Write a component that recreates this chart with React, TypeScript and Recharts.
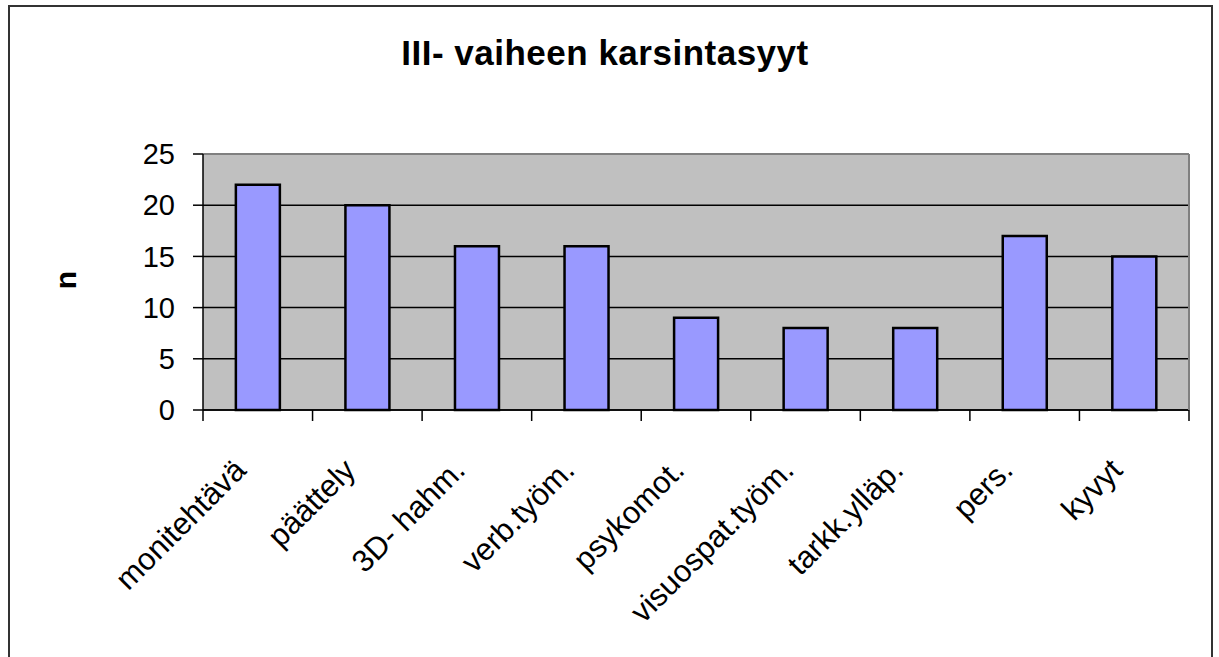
import React from 'react';
import { BarChart, Bar, XAxis, YAxis, CartesianGrid, ReferenceLine } from 'recharts';

const categories = ['monitehtävä', 'päättely', '3D- hahm.', 'verb.työm.', 'psykomot.', 'visuospat.työm.', 'tarkk.ylläp.', 'pers.', 'kyvyt'];
const values = [22, 20, 16, 16, 9, 8, 8, 17, 15];
const yTicks = [0, 5, 10, 15, 20, 25];
const title = 'III- vaiheen karsintasyyt';
const yLabel = 'n';

const data = categories.map((name, i) => ({ name, value: values[i] }));

const W = 1219;
const H = 657;
const PLOT_LEFT = 203;
const PLOT_RIGHT = 1189;
const PLOT_TOP = 154;
const PLOT_BOTTOM = 410;
const BAND = (PLOT_RIGHT - PLOT_LEFT) / categories.length;
const FONT = 'Arial, "Liberation Sans", sans-serif';

const XTick = (props: any) => {
  const { x, y, payload, index } = props;
  const left = x - BAND / 2;
  const tx = x - 10;
  const ty = y + 62;
  return (
    <g>
      <line x1={left} y1={y} x2={left} y2={y + 11} stroke="#000" strokeWidth={1.5} />
      {index === categories.length - 1 && (
        <line x1={x + BAND / 2} y1={y} x2={x + BAND / 2} y2={y + 11} stroke="#000" strokeWidth={1.5} />
      )}
      <text
        x={tx}
        y={ty}
        transform={`rotate(-45 ${tx} ${ty})`}
        textAnchor="end"
        fontSize={31}
        fontFamily={FONT}
        fill="#000"
      >
        {payload.value}
      </text>
    </g>
  );
};

export default function App() {
  return (
    <div style={{ position: 'absolute', left: 0, top: 0, width: W, height: H, overflow: 'hidden', background: '#fff' }}>
      <BarChart
        width={W}
        height={H}
        data={data}
        margin={{ top: PLOT_TOP, right: 0, bottom: 0, left: 0 }}
        barCategoryGap="30%"
      >
        <CartesianGrid vertical={false} stroke="#000" strokeWidth={1.5} fill="#C0C0C0" fillOpacity={1} />
        <XAxis
          dataKey="name"
          height={H - PLOT_BOTTOM}
          interval={0}
          tickSize={0}
          tickMargin={0}
          tickLine={false}
          axisLine={{ stroke: '#000', strokeWidth: 1.5 }}
          tick={<XTick />}
        />
        <YAxis
          width={PLOT_LEFT}
          domain={[0, 25]}
          ticks={yTicks}
          interval={0}
          tickSize={10}
          tickMargin={18}
          axisLine={{ stroke: '#000', strokeWidth: 1.5 }}
          tickLine={{ stroke: '#000', strokeWidth: 1.5 }}
          tick={{ fontSize: 29, fill: '#000', fontFamily: FONT }}
        />
        <YAxis
          yAxisId="right"
          orientation="right"
          width={W - PLOT_RIGHT}
          domain={[0, 25]}
          tick={false}
          tickLine={false}
          axisLine={{ stroke: '#808080', strokeWidth: 2 }}
        />
        <ReferenceLine y={25} stroke="#808080" strokeWidth={2} />
        <Bar dataKey="value" fill="#9999FF" stroke="#000" strokeWidth={2.5} isAnimationActive={false} />
      </BarChart>
      <svg width={W} height={H} style={{ position: 'absolute', left: 0, top: 0, pointerEvents: 'none' }}>
        <rect x={9} y={6} width={1203} height={700} fill="none" stroke="#333" strokeWidth={2} />
        <text x={605} y={65} textAnchor="middle" fontSize={35} fontWeight="bold" fontFamily={FONT} letterSpacing={0.5} fill="#000">
          {title}
        </text>
        <text x={76} y={280} transform="rotate(-90 76 280)" textAnchor="middle" fontSize={30} fontWeight="bold" fontFamily={FONT} fill="#000">
          {yLabel}
        </text>
      </svg>
    </div>
  );
}
